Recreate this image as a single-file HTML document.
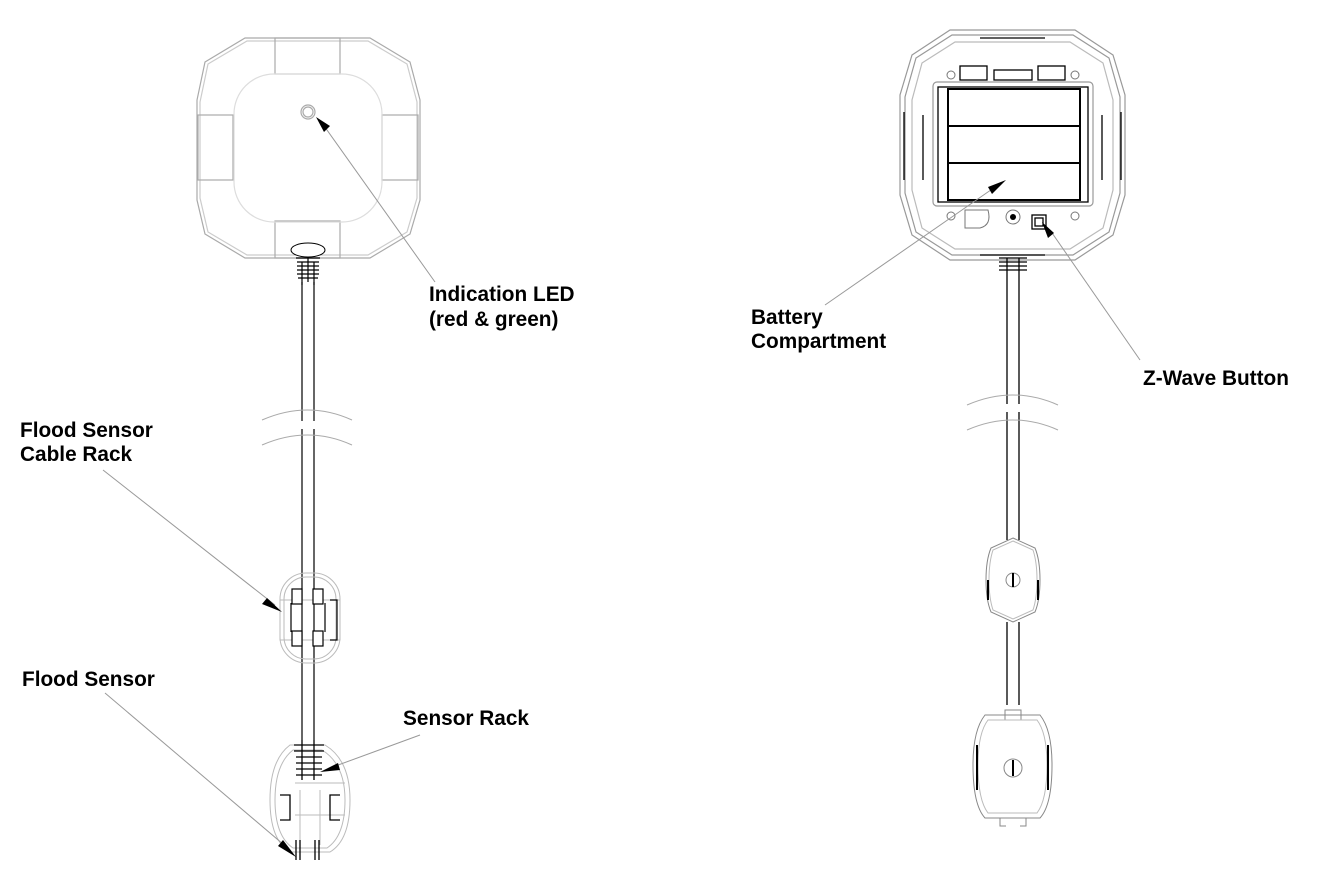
<!DOCTYPE html>
<html><head><style>
body{margin:0;background:#fff;}
svg{display:block}
text{font-family:"Liberation Sans",Arial,sans-serif;font-weight:bold;font-size:20.8px;fill:#000}
</style></head><body>
<svg width="1325" height="889" viewBox="0 0 1325 889">
<g fill="none" stroke="#aaa" stroke-width="1.2">
<path d="M245 38 L370 38 L410 62 L420 100 L420 200 L410 234 L370 258 L245 258 L205 234 L197 200 L197 100 L205 62 Z"/>
<path d="M247 41 L368 41 L407 64 L417 102 L417 198 L407 232 L368 255 L247 255 L208 232 L200 198 L200 102 L208 64 Z" stroke="#ccc"/>
<rect x="275" y="38" width="65" height="36"/>
<rect x="198" y="115" width="35" height="65"/>
<rect x="382" y="115" width="36" height="65"/>
<rect x="275" y="221" width="65" height="37"/>
<rect x="234" y="74" width="148" height="148" rx="40" stroke="#ddd"/>
<circle cx="308" cy="112" r="7"/><circle cx="308" cy="112" r="5"/>
</g>
<ellipse cx="308" cy="250" rx="17" ry="7" fill="#fff" stroke="#000" stroke-width="1"/>
<g stroke="#000" stroke-width="1.2" fill="none">
<path d="M296 258 H320 M297 262 H319 M297 266 H319 M297 270 H319 M297 274 H319 M298 278 H318"/>
<path d="M302 262 V285 M314 262 V285 M308 258 V282"/>
<path d="M302 282 V740 M314 282 V740"/>
</g>
<path d="M262 420 Q308 400 352 420 M262 445 Q308 425 352 445" stroke="#aaa" fill="none"/>
<rect x="300" y="421" width="16" height="8" fill="#fff" stroke="none"/>
<g fill="none" stroke="#bbb">
<rect x="280" y="573" width="60" height="90" rx="26"/>
<rect x="284" y="577" width="52" height="82" rx="22"/>
<rect x="280" y="600" width="60" height="40"/>
</g>
<g fill="#fff" stroke="#000" stroke-width="1.2">
<rect x="292" y="589" width="10" height="15"/><rect x="313" y="589" width="10" height="15"/>
<rect x="292" y="631" width="10" height="15"/><rect x="313" y="631" width="10" height="15"/>
<path d="M291 603 V632 M325 603 V632 M330 600 H337 V640 H330" fill="none"/>
</g>
<g fill="none" stroke="#bbb">
<path d="M290 745 H325 Q350 760 350 800 Q350 840 330 852 H290 Q270 840 270 800 Q270 760 290 745Z"/>
<path d="M293 750 H322 Q345 764 345 800 Q345 836 327 848 H293 Q275 836 275 800 Q275 764 293 750Z"/>
<path d="M295 783 H345 M295 815 H345 M300 790 V845 M320 790 V845"/>
</g>
<g fill="none" stroke="#000" stroke-width="1.3">
<path d="M294 745 H324 M294 751 H324 M296 757 H322 M296 763 H322 M296 769 H322 M296 775 H322"/>
<path d="M302 740 V780 M314 740 V780"/>
<path d="M280 795 H290 V820 H280 M340 795 H330 V820 H340"/>
<path d="M296 840 V860 M300 840 V860 M315 840 V860 M319 840 V860"/>
</g>

<g fill="none" stroke="#999" stroke-width="1.2">
<path d="M950 30 L1075 30 L1113 55 L1125 95 L1125 195 L1113 235 L1075 260 L950 260 L912 235 L900 195 L900 95 L912 55 Z"/>
<path d="M952 35 L1073 35 L1109 58 L1120 97 L1120 193 L1109 232 L1073 255 L952 255 L916 232 L905 193 L905 97 L916 58 Z"/>
<path d="M955 42 L1070 42 L1103 63 L1113 100 L1113 190 L1103 228 L1070 249 L955 249 L922 228 L912 190 L912 100 L922 63 Z" stroke="#bbb"/>
<rect x="933" y="82" width="160" height="124" rx="4"/>
</g>
<g fill="none" stroke="#000" stroke-width="1.3">
<path d="M980 38 H1045 M980 255 H1045"/>
<path d="M904 112 V180 M1121 112 V180 M923 115 V180 M1102 115 V180"/>
<rect x="938" y="87" width="150" height="115"/>
<path d="M948 89 H1080 V200 H948Z M948 126 H1080 M948 163 H1080" stroke-width="2"/>
<rect x="960" y="66" width="27" height="14"/><rect x="1038" y="66" width="27" height="14"/>
<rect x="994" y="70" width="38" height="10"/>
<rect x="1032" y="215" width="14" height="14"/><rect x="1035" y="218" width="8" height="8"/>
<path d="M1007 258 V300 M1019 258 V300 M999 258 H1027 M999 262 H1027 M999 266 H1027 M999 270 H1027"/>
<path d="M1007 300 V540 M1019 300 V540 M1007 622 V705 M1019 622 V705"/>
</g>
<g fill="none" stroke="#777">
<circle cx="951" cy="75" r="4"/><circle cx="1075" cy="75" r="4"/>
<circle cx="951" cy="216" r="4"/><circle cx="1075" cy="216" r="4"/>
<circle cx="1013" cy="217" r="7"/>
<path d="M965 210 H988 Q992 225 980 228 H965Z"/>
</g>
<circle cx="1013" cy="217" r="3" fill="#000"/>
<path d="M967 405 Q1013 385 1058 405 M967 430 Q1013 410 1058 430" stroke="#aaa" fill="none"/>
<rect x="1005" y="404" width="16" height="8" fill="#fff"/>
<g fill="none" stroke="#888">
<path d="M1013 538 L1035 548 Q1040 560 1040 580 Q1040 600 1035 612 L1013 622 L991 612 Q986 600 986 580 Q986 560 991 548Z"/>
<path d="M1013 541 L1033 550 Q1037 562 1037 580 Q1037 598 1033 610 L1013 619 L993 610 Q989 598 989 580 Q989 562 993 550Z" stroke="#bbb"/>
<circle cx="1013" cy="580" r="7"/>
<path d="M1005 710 H1021 V720 H1005Z"/>
<path d="M985 715 H1040 Q1052 730 1052 765 Q1052 805 1040 818 H985 Q973 805 973 765 Q973 730 985 715Z"/>
<path d="M988 720 H1037 Q1047 733 1047 765 Q1047 800 1037 813 H988 Q978 800 978 765 Q978 733 988 720Z" stroke="#bbb"/>
<circle cx="1013" cy="768" r="9"/>
<path d="M1000 818 V826 H1006 M1020 826 H1026 V818"/>
</g>
<g stroke="#000" stroke-width="2" fill="none">
<path d="M1013 573 V587 M1013 760 V776 M977 745 V790 M1048 745 V790 M988 580 V600 M1038 580 V600"/>
</g>

<g stroke="#999" stroke-width="1" fill="none">
<path d="M322 123 L435 282"/>
<path d="M103 470 L275 605"/>
<path d="M105 693 L290 850"/>
<path d="M420 735 L330 768"/>
<path d="M825 305 L998 185"/>
<path d="M1140 360 L1050 230"/>
</g>
<g fill="#000">
<polygon points="316,117 330,126 324,132"/>
<polygon points="282,612 262,604 267,598"/>
<polygon points="296,857 283,840 278,846"/>
<polygon points="320,772 338,763 340,770"/>
<polygon points="1006,180 988,187 992,194"/>
<polygon points="1042,222 1054,233 1048,238"/>
</g>

<text x="429" y="301">Indication LED</text>
<text x="429" y="326">(red &amp; green)</text>
<text x="20" y="437">Flood Sensor</text>
<text x="20" y="461">Cable Rack</text>
<text x="22" y="686">Flood Sensor</text>
<text x="403" y="725">Sensor Rack</text>
<text x="751" y="324">Battery</text>
<text x="751" y="348">Compartment</text>
<text x="1143" y="385">Z-Wave Button</text>
</svg>
</body></html>
